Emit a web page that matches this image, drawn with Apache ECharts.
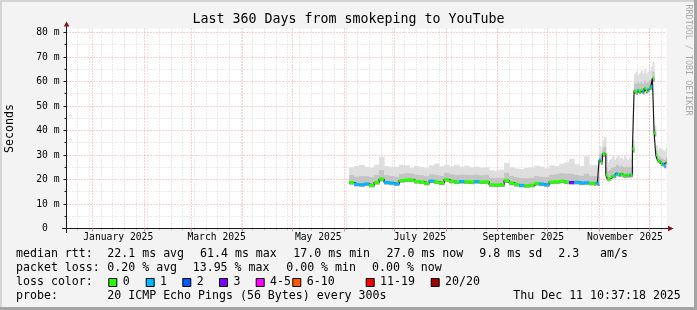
<!DOCTYPE html>
<html>
<head>
<meta charset="utf-8">
<script src="https://cdn.jsdelivr.net/npm/echarts@6/dist/echarts.min.js"></script>
<style>
  html, body { margin: 0; padding: 0; background: #f3f3f3; }
  #chart { width: 697px; height: 310px; }
</style>
</head>
<body>
<div id="chart"></div>
<script>
// time range of the graph (last 360 days)
var startTime = Date.UTC(2024, 11, 16, 10, 37, 18);
var endTime = Date.UTC(2025, 11, 11, 10, 37, 18);

var days = [
  '2025-06-04','2025-06-07','2025-06-10','2025-06-13','2025-06-16','2025-06-19','2025-06-22','2025-06-25','2025-06-28',
  '2025-07-01','2025-07-04','2025-07-07','2025-07-10','2025-07-13','2025-07-16','2025-07-19','2025-07-22','2025-07-25','2025-07-28','2025-07-31',
  '2025-08-03','2025-08-06','2025-08-09','2025-08-12','2025-08-15','2025-08-18','2025-08-21','2025-08-24','2025-08-27','2025-08-30',
  '2025-09-02','2025-09-05','2025-09-08','2025-09-11','2025-09-14','2025-09-17','2025-09-20','2025-09-23','2025-09-26','2025-09-29',
  '2025-10-02','2025-10-05','2025-10-08','2025-10-11','2025-10-14','2025-10-17','2025-10-20','2025-10-23','2025-10-26','2025-10-29',
  '2025-10-30','2025-10-31',
  '2025-11-01','2025-11-02','2025-11-03','2025-11-04','2025-11-05','2025-11-06','2025-11-07','2025-11-08','2025-11-09','2025-11-10',
  '2025-11-11','2025-11-12','2025-11-13','2025-11-14','2025-11-15','2025-11-16','2025-11-17','2025-11-18','2025-11-19','2025-11-20',
  '2025-11-21','2025-11-22','2025-11-23','2025-11-24','2025-11-25','2025-11-26','2025-11-27','2025-11-28','2025-11-29','2025-11-30',
  '2025-12-01','2025-12-02','2025-12-03','2025-12-04','2025-12-05','2025-12-06','2025-12-07','2025-12-08','2025-12-09','2025-12-10',
  '2025-12-11'
];

// median rtt, ms
var median = [
  18.8, 18.0, 17.9, 18.2, 17.6, 18.8, 20.2, 18.8, 18.6,
  18.2, 19.6, 19.8, 19.9, 19.2, 19.0, 18.5, 19.4, 19.0, 18.6, 20.0,
  19.3, 19.0, 19.2, 19.1, 19.0, 19.2, 19.0, 19.1, 17.9, 17.8,
  17.9, 19.6, 18.6, 18.0, 17.6, 17.5, 17.7, 18.4, 18.2, 17.9,
  19.0, 19.1, 19.3, 19.0, 18.8, 18.9, 18.6, 18.7, 18.5, 18.3,
  18.6, 18.2,
  28.0, 27.2, 30.5, 30.6, 21.8, 20.2, 20.4, 21.2, 21.4, 21.6,
  22.4, 22.2, 22.0, 22.3, 21.8, 21.6, 21.9, 21.7, 21.8, 21.9,
  32.5, 56.2, 55.8, 56.4, 56.0, 56.6, 55.9, 57.2, 56.3, 56.8,
  57.6, 57.9, 61.4, 39.0, 30.0, 27.8, 27.4, 26.5, 26.3, 25.6,
  27.0
];

// lowest ping (bottom of smoke)
var smokeLow = [
  17.9, 17.2, 17.0, 17.4, 16.8, 17.9, 19.2, 17.9, 17.7,
  17.4, 18.7, 18.9, 19.0, 18.3, 18.1, 17.6, 18.5, 18.1, 17.7, 19.1,
  18.4, 18.1, 18.3, 18.2, 18.1, 18.3, 18.1, 18.2, 17.0, 16.9,
  17.0, 18.6, 17.7, 17.1, 16.8, 16.6, 16.8, 17.5, 17.3, 17.0,
  18.1, 18.2, 18.4, 18.1, 17.9, 18.0, 17.7, 17.8, 17.6, 17.4,
  17.7, 17.3,
  26.8, 26.0, 29.2, 29.4, 20.8, 19.3, 19.5, 20.3, 20.5, 20.7,
  21.4, 21.2, 21.0, 21.3, 20.8, 20.6, 20.9, 20.7, 20.8, 20.9,
  31.0, 55.0, 54.6, 55.2, 54.8, 55.4, 54.7, 56.0, 55.1, 55.6,
  56.4, 56.6, 60.0, 37.5, 28.8, 26.8, 26.4, 25.5, 25.3, 24.6,
  26.0
];

// top of the denser part of the smoke
var smokeMid = [
  21.8, 21.2, 21.5, 21.4, 21.0, 22.0, 24.0, 21.8, 21.5,
  21.2, 22.4, 22.6, 22.5, 22.0, 21.8, 21.4, 22.2, 22.0, 21.6, 22.8,
  22.2, 22.0, 22.1, 22.0, 21.9, 22.1, 21.8, 22.0, 20.8, 20.6,
  20.8, 22.8, 21.6, 21.0, 20.6, 20.6, 20.8, 21.5, 21.2, 21.0,
  22.0, 22.2, 22.6, 22.5, 22.4, 22.0, 21.6, 22.5, 21.6, 21.4,
  21.5, 21.2,
  30.5, 29.8, 33.0, 33.5, 25.0, 23.5, 24.0, 24.8, 25.0, 25.2,
  26.0, 25.8, 25.4, 25.8, 25.2, 25.0, 25.4, 25.0, 25.2, 25.0,
  34.0, 59.5, 59.0, 59.8, 59.2, 60.0, 59.0, 60.5, 59.4, 60.0,
  60.6, 61.2, 64.0, 40.5, 32.0, 29.8, 29.5, 28.8, 28.5, 28.0,
  29.0
];

// highest ping (top of smoke)
var smokeHigh = [
  25.0, 25.5, 26.0, 25.2, 24.8, 26.0, 29.3, 25.5, 25.0,
  25.2, 26.0, 25.8, 24.8, 25.5, 25.0, 24.6, 25.8, 26.5, 25.4, 26.0,
  25.4, 26.0, 25.2, 25.6, 25.0, 25.3, 24.8, 25.0, 23.8, 23.5,
  24.0, 26.8, 25.0, 24.5, 24.2, 24.8, 25.0, 25.6, 25.2, 24.6,
  25.8, 25.5, 26.4, 27.0, 28.5, 26.2, 25.5, 29.5, 25.8, 26.0,
  25.8, 26.2,
  33.5, 32.0, 36.0, 37.5, 30.0, 27.0, 28.0, 28.5, 29.5, 28.0,
  29.0, 30.0, 28.5, 29.0, 28.2, 29.5, 28.5, 28.0, 29.0, 28.0,
  36.0, 63.0, 64.0, 62.5, 63.5, 64.5, 63.0, 65.0, 63.2, 64.0,
  64.5, 66.0, 68.0, 42.0, 34.0, 32.0, 33.0, 32.5, 32.0, 31.5,
  32.8
];

// lost pings out of 20
var lossCount = [
  0, 1, 1, 1, 0, 0, 0, 1, 1,
  1, 0, 0, 0, 0, 0, 0, 1, 0, 0, 0,
  0, 0, 1, 0, 0, 1, 0, 0, 0, 0,
  0, 0, 0, 0, 1, 0, 0, 0, 1, 1,
  0, 0, 0, 0, 3, 1, 1, 1, 0, 0,
  1, 1,
  1, 0, 0, 0, 0, 0, 0, 0, 0, 1,
  1, 0, 1, 0, 0, 0, 0, 0, 1, 0,
  0, 0, 0, 1, 0, 0, 1, 0, 0, 1,
  0, 1, 0, 0, 0, 0, 0, 0, 1, 1,
  0
];

var lossNames = ['0', '1', '2', '3', '4-5', '6-10', '11-19', '20/20'];
var lossColors = ['#26ff00', '#00b8ff', '#0059ff', '#7e00ff', '#ff00ff', '#ff5a00', '#ff0000', '#a10000'];

var monthStarts = ['2025-01-01','2025-02-01','2025-03-01','2025-04-01','2025-05-01','2025-06-01',
  '2025-07-01','2025-08-01','2025-09-01','2025-10-01','2025-11-01','2025-12-01'];
var monthLabels = ['January 2025', 'March 2025', 'May 2025', 'July 2025', 'September 2025', 'November 2025'];
var monthLabelAt = ['2025-01-16T12:00:00Z','2025-03-16T12:00:00Z','2025-05-16T12:00:00Z',
  '2025-07-16T12:00:00Z','2025-09-16T12:00:00Z','2025-11-16T12:00:00Z'];
var yMajor = [0, 10, 20, 30, 40, 50, 60, 70, 80];
var yMinor = [5, 15, 25, 35, 45, 55, 65, 75];

var FONT = '"DejaVu Sans Mono", monospace';

var times = days.map(function (d) { return Date.parse(d + 'T00:00:00Z'); });
var monthTimes = monthStarts.map(function (d) { return Date.parse(d + 'T00:00:00Z'); });
var labelTimes = monthLabelAt.map(function (d) { return Date.parse(d); });
var weekTimes = [];
for (var w = Date.UTC(2024, 11, 23); w < endTime; w += 7 * 86400000) weekTimes.push(w);

function lossClass(n) {
  if (n <= 3) return n;
  if (n <= 5) return 4;
  if (n <= 10) return 5;
  if (n <= 19) return 6;
  return 7;
}
function nextTime(i) { return i + 1 < times.length ? times[i + 1] : endTime; }

// each step: [t0, t1, low, median, mid, high, loss]
var steps = median.map(function (v, i) {
  return [times[i], nextTime(i), smokeLow[i], v, smokeMid[i], smokeHigh[i], lossCount[i]];
});
var medianLine = median.map(function (v, i) { return [times[i], v]; });
medianLine.push([endTime, median[median.length - 1]]);

var chart = echarts.init(document.getElementById('chart'));

var graphics = [];
function txt(x, y, s) {
  return { type: 'text', x: x, y: y, silent: true,
    style: { text: s, font: '11.6px ' + FONT, fill: '#000', textAlign: 'left', textVerticalAlign: 'middle' } };
}
graphics.push({ type: 'rect', shape: { x: 0, y: 0, width: 697, height: 2 }, style: { fill: '#d4d4d4' }, silent: true });
graphics.push({ type: 'rect', shape: { x: 0, y: 0, width: 2, height: 310 }, style: { fill: '#d4d4d4' }, silent: true });
graphics.push({ type: 'rect', shape: { x: 0, y: 307, width: 697, height: 3 }, style: { fill: '#a4a4a4' }, silent: true });
graphics.push({ type: 'rect', shape: { x: 694, y: 0, width: 3, height: 310 }, style: { fill: '#a4a4a4' }, silent: true });

graphics.push({ type: 'text', x: 348.5, y: 20, silent: true,
  style: { text: 'Last 360 Days from smokeping to YouTube', font: '13.3px ' + FONT, fill: '#000', textAlign: 'center', textVerticalAlign: 'middle' } });
graphics.push({ type: 'text', x: 10, y: 128.5, rotation: Math.PI / 2, silent: true,
  style: { text: 'Seconds', font: '11.6px ' + FONT, fill: '#000', textAlign: 'center', textVerticalAlign: 'middle' } });
graphics.push({ type: 'text', x: 688, y: 60, rotation: -Math.PI / 2, silent: true,
  style: { text: 'RRDTOOL / TOBI OETIKER', font: '8.4px ' + FONT, fill: '#a8a8a8', textAlign: 'center', textVerticalAlign: 'middle' } });

// axis arrows and the short left/bottom overhang of the axes
graphics.push({ type: 'line', silent: true, shape: { x1: 62, y1: 228.5, x2: 67, y2: 228.5 }, style: { stroke: '#1a1a1a', lineWidth: 1 } });
graphics.push({ type: 'line', silent: true, shape: { x1: 66.5, y1: 228.5, x2: 66.5, y2: 233 }, style: { stroke: '#1a1a1a', lineWidth: 1 } });
graphics.push({ type: 'line', silent: true, shape: { x1: 666, y1: 228.5, x2: 669, y2: 228.5 }, style: { stroke: '#1a1a1a', lineWidth: 1 } });
graphics.push({ type: 'line', silent: true, shape: { x1: 66.5, y1: 28.5, x2: 66.5, y2: 25 }, style: { stroke: '#1a1a1a', lineWidth: 1 } });
graphics.push({ type: 'polygon', silent: true, shape: { points: [[63.8, 26.5], [69.4, 26.5], [66.6, 21.5]] }, style: { fill: '#8e1010' } });
graphics.push({ type: 'polygon', silent: true, shape: { points: [[668, 225.7], [668, 231.3], [673.6, 228.5]] }, style: { fill: '#8e1010' } });

// legend block
var r1 = 254.3, r2 = 268.3, r3 = 282.3, r4 = 295.7;
graphics.push(txt(16, r1, 'median rtt:'));
graphics.push(txt(107.3, r1, '22.1 ms avg'));
graphics.push(txt(200, r1, '61.4 ms max'));
graphics.push(txt(293.3, r1, '17.0 ms min'));
graphics.push(txt(386.5, r1, '27.0 ms now'));
graphics.push(txt(479.3, r1, '9.8 ms sd'));
graphics.push(txt(558.3, r1, '2.3'));
graphics.push(txt(600, r1, 'am/s'));
graphics.push(txt(16, r2, 'packet loss:'));
graphics.push(txt(107.3, r2, '0.20 % avg'));
graphics.push(txt(192.7, r2, '13.95 % max'));
graphics.push(txt(286.2, r2, '0.00 % min'));
graphics.push(txt(372, r2, '0.00 % now'));
graphics.push(txt(16, r3, 'loss color:'));
var boxX = [108.3, 145.7, 182.3, 219, 255.7, 292.3, 365.7, 430.7];
lossNames.forEach(function (n, i) {
  graphics.push({ type: 'rect', silent: true, shape: { x: boxX[i] + 0.5, y: 278.5, width: 8, height: 8 },
    style: { fill: lossColors[i], stroke: '#000', lineWidth: 1 } });
  graphics.push(txt(boxX[i] + 14.4, r3, n));
});
graphics.push(txt(16, r4, 'probe:'));
graphics.push(txt(107.3, r4, '20 ICMP Echo Pings (56 Bytes) every 300s'));
graphics.push(txt(513.3, r4, 'Thu Dec 11 10:37:18 2025'));

var option = {
  backgroundColor: '#f3f3f3',
  animation: false,
  grid: { left: 66.5, top: 28.5, width: 600, height: 200, show: true, backgroundColor: '#ffffff', borderWidth: 0 },
  xAxis: [
    {
      type: 'value', min: startTime, max: endTime, position: 'bottom', z: 1,
      axisLine: { show: true, lineStyle: { color: '#1a1a1a', width: 1 } },
      axisTick: { show: true, customValues: monthTimes, length: 3, lineStyle: { color: '#e48c8c' } },
      axisLabel: {
        customValues: labelTimes, margin: 4, color: '#000', fontFamily: FONT, fontSize: 9.7,
        formatter: function (v) { var i = labelTimes.indexOf(v); return i >= 0 ? monthLabels[i] : ''; }
      },
      splitLine: { show: true, lineStyle: { color: '#eea0a0', width: 1, type: [1, 2] } }
    },
    {
      type: 'value', min: startTime, max: endTime, position: 'bottom', z: 0,
      axisLine: { show: false },
      axisTick: { show: true, customValues: weekTimes, length: 2, lineStyle: { color: '#c8c8c8' } },
      axisLabel: { show: false },
      splitLine: { show: true, lineStyle: { color: '#d6d6d6', width: 1, type: [1, 2] } }
    }
  ],
  yAxis: [
    {
      type: 'value', min: 0, max: 81.63, position: 'left', z: 1,
      axisLine: { show: true, lineStyle: { color: '#1a1a1a', width: 1 } },
      axisTick: { show: true, customValues: yMajor, length: 3, lineStyle: { color: '#1a1a1a' } },
      axisLabel: {
        customValues: yMajor, margin: 7, color: '#000', fontFamily: FONT, fontSize: 9.7,
        formatter: function (v) { return v === 0 ? '0  ' : v + ' m'; }
      },
      splitLine: { show: true, lineStyle: { color: '#eea0a0', width: 1, type: [1, 2] } }
    },
    {
      type: 'value', min: 0, max: 81.63, position: 'left', z: 0,
      axisLine: { show: false },
      axisTick: { show: true, customValues: yMinor, length: 2, lineStyle: { color: '#1a1a1a' } },
      axisLabel: { show: false },
      splitLine: { show: true, lineStyle: { color: '#d6d6d6', width: 1, type: [1, 2] } }
    }
  ],
  series: [
    {
      // smoke: low..median dark, median..mid grey, mid..high light
      name: 'smoke', type: 'custom', silent: true, z: 2, data: steps,
      renderItem: function (params, api) {
        var x0 = api.coord([api.value(0), 0])[0];
        var x1 = api.coord([api.value(1), 0])[0];
        var yLo = api.coord([api.value(0), api.value(2)])[1];
        var yMed = api.coord([api.value(0), api.value(3)])[1];
        var yMid = api.coord([api.value(0), api.value(4)])[1];
        var yHi = api.coord([api.value(0), api.value(5)])[1];
        var w = x1 - x0 + 0.6;
        return {
          type: 'group',
          children: [
            { type: 'rect', shape: { x: x0, y: yHi, width: w, height: yMid - yHi }, style: { fill: '#dedede' } },
            { type: 'rect', shape: { x: x0, y: yMid, width: w, height: yMed - yMid }, style: { fill: '#c4c4c4' } },
            { type: 'rect', shape: { x: x0, y: yMed, width: w, height: yLo - yMed }, style: { fill: '#9c9c9c' } }
          ]
        };
      }
    },
    {
      name: 'median', type: 'line', step: 'end', symbol: 'none', silent: true, z: 3,
      data: medianLine, lineStyle: { color: '#1c1c1c', width: 1.2 }
    },
    {
      name: 'loss', type: 'custom', silent: true, z: 4, data: steps,
      renderItem: function (params, api) {
        var p0 = api.coord([api.value(0), api.value(3)]);
        var p1 = api.coord([api.value(1), api.value(3)]);
        return {
          type: 'rect',
          shape: { x: p0[0], y: p0[1] - 1.5, width: Math.max(p1[0] - p0[0], 1), height: 3 },
          style: { fill: lossColors[lossClass(api.value(6))] }
        };
      }
    }
  ],
  graphic: graphics
};
chart.setOption(option);
</script>
</body>
</html>
